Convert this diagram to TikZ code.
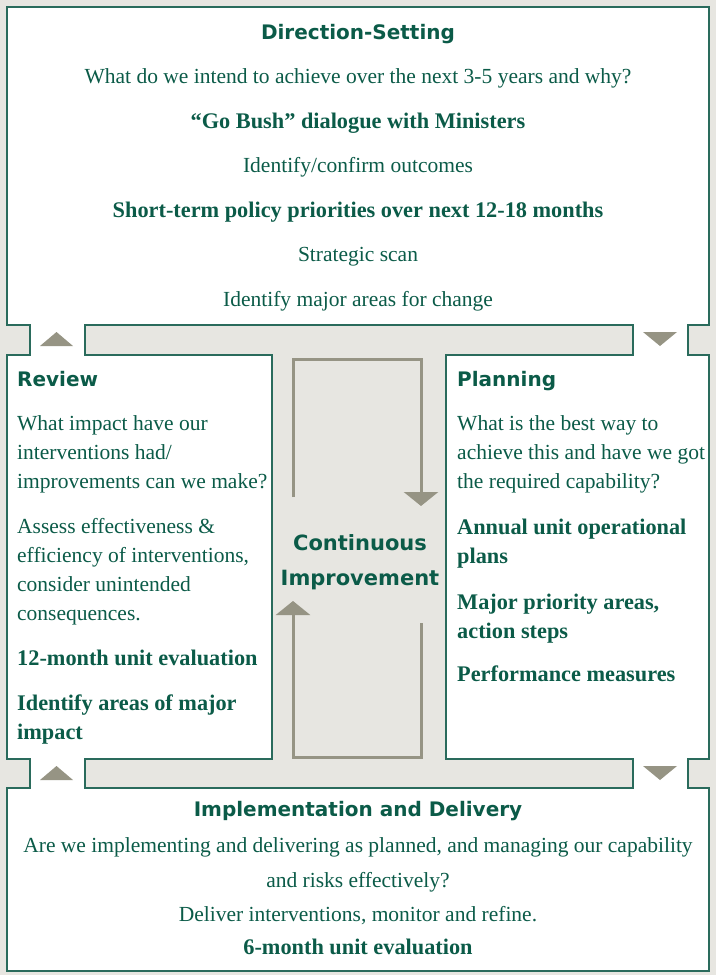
\documentclass[tikz,border=0pt]{standalone}
\usepackage{fontspec}
\setmainfont{Liberation Serif}
\newfontfamily\headfont{DejaVu Sans}
\usetikzlibrary{arrows.meta}
\definecolor{pinegreen}{HTML}{0B5B48}
\definecolor{frameline}{HTML}{2A6B5C}
\definecolor{paper}{HTML}{E7E6E1}
\definecolor{pointer}{HTML}{969484}
\tikzset{
    heading/.style = {
        font=\headfont\bfseries\fontsize{20}{24}\selectfont,
        text=pinegreen,
        inner sep=0pt,
        anchor=base
    },
    bodytext/.style = {
        font=\fontsize{21.5}{29}\selectfont,
        text=pinegreen,
        inner sep=0pt,
        anchor=base
    },
    boldtext/.style = {
        bodytext,
        font=\fontsize{22.3}{29}\selectfont\bfseries
    },
    leftside/.style = {
        anchor=base west
    },
    boxline/.style = {
        draw=frameline,
        line width=1.7pt
    },
    marker/.style = {
        fill=pointer
    },
    loopline/.style = {
        draw=pointer,
        line width=3pt,
        -{Triangle[width=34pt,length=14pt]}
    }
}

\begin{document}
\begin{tikzpicture}[x=1pt, y=-1pt]
    \useasboundingbox (0,0) rectangle (716,975);
    \fill[paper] (0,0) rectangle (716,975);

    % white panels joined through the small gaps, grey core cut out
    \path[boxline, fill=white, even odd rule]
        (7,7) -- (709,7) -- (709,325) -- (688,325) -- (688,355) -- (709,355)
        -- (709,759) -- (688,759) -- (688,788) -- (709,788) -- (709,971)
        -- (7,971) -- (7,788) -- (30,788) -- (30,759) -- (7,759)
        -- (7,355) -- (30,355) -- (30,325) -- (7,325) -- cycle
        (85,325) -- (633,325) -- (633,355) -- (446,355) -- (446,759)
        -- (633,759) -- (633,788) -- (85,788) -- (85,759) -- (272,759)
        -- (272,355) -- (85,355) -- cycle;

    % flow markers in the gaps
    \fill[marker] (40,346) -- (73,346) -- (56.5,332) -- cycle;
    \fill[marker] (643,332) -- (677,332) -- (660,346) -- cycle;
    \fill[marker] (40,780) -- (73,780) -- (56.5,766) -- cycle;
    \fill[marker] (643,766) -- (677,766) -- (660,780) -- cycle;

    % direction-setting
    \node[heading] (dirhead) at (358,39) {Direction-Setting};
    \node[bodytext] (dirq) at (358,83) {What do we intend to achieve over the next 3-5 years and why?};
    \node[boldtext] (gobush) at (358,128) {“Go Bush” dialogue with Ministers};
    \node[bodytext] (outcomes) at (358,172) {Identify/confirm outcomes};
    \node[boldtext] (shortterm) at (358,217) {Short-term policy priorities over next 12-18 months};
    \node[bodytext] (scan) at (358,261) {Strategic scan};
    \node[bodytext] (change) at (358,306) {Identify major areas for change};

    % review
    \node[heading, leftside] (revhead) at (17,386) {Review};
    \node[bodytext, leftside] (revq1) at (17,430) {What impact have our};
    \node[bodytext, leftside] (revq2) at (17,459) {interventions had/};
    \node[bodytext, leftside] (revq3) at (17,488) {improvements can we make?};
    \node[bodytext, leftside] (assess1) at (17,533) {Assess effectiveness \&};
    \node[bodytext, leftside] (assess2) at (17,562) {efficiency of interventions,};
    \node[bodytext, leftside] (assess3) at (17,591) {consider unintended};
    \node[bodytext, leftside] (assess4) at (17,620) {consequences.};
    \node[boldtext, leftside] (yeareval) at (17,665) {12-month unit evaluation};
    \node[boldtext, leftside] (impact1) at (17,710) {Identify areas of major};
    \node[boldtext, leftside] (impact2) at (17,739) {impact};

    % planning
    \node[heading, leftside] (planhead) at (457,386) {Planning};
    \node[bodytext, leftside] (planq1) at (457,430) {What is the best way to};
    \node[bodytext, leftside] (planq2) at (457,459) {achieve this and have we got};
    \node[bodytext, leftside] (planq3) at (457,488) {the required capability?};
    \node[boldtext, leftside] (annual1) at (457,534) {Annual unit operational};
    \node[boldtext, leftside] (annual2) at (457,563) {plans};
    \node[boldtext, leftside] (major1) at (457,609) {Major priority areas,};
    \node[boldtext, leftside] (major2) at (457,638) {action steps};
    \node[boldtext, leftside] (measures) at (457,681) {Performance measures};

    % implementation and delivery
    \node[heading] (imphead) at (358,816) {Implementation and Delivery};
    \node[bodytext] (impq1) at (358,852) {Are we implementing and delivering as planned, and managing our capability};
    \node[bodytext] (impq2) at (358,887) {and risks effectively?};
    \node[bodytext] (deliver) at (358,921) {Deliver interventions, monitor and refine.};
    \node[boldtext] (halfeval) at (358,954) {6-month unit evaluation};

    % continuous improvement loop
    \node[heading, font=\headfont\bfseries\fontsize{21}{24}\selectfont] (cont) at (360,550) {Continuous};
    \node[heading, font=\headfont\bfseries\fontsize{21}{24}\selectfont] (improve) at (360,585) {Improvement};
    \coordinate (loopa) at (293,497);
    \coordinate (loopb) at (421,359);
    \coordinate (loopc) at (421,506);
    \coordinate (loopd) at (421,623);
    \coordinate (loope) at (421,757);
    \coordinate (loopf) at (293,601);
    \draw[loopline] (loopa) |- (loopb) -- (loopc);
    \draw[loopline] (loopd) -- (loope) -| (loopf);
\end{tikzpicture}
\end{document}
